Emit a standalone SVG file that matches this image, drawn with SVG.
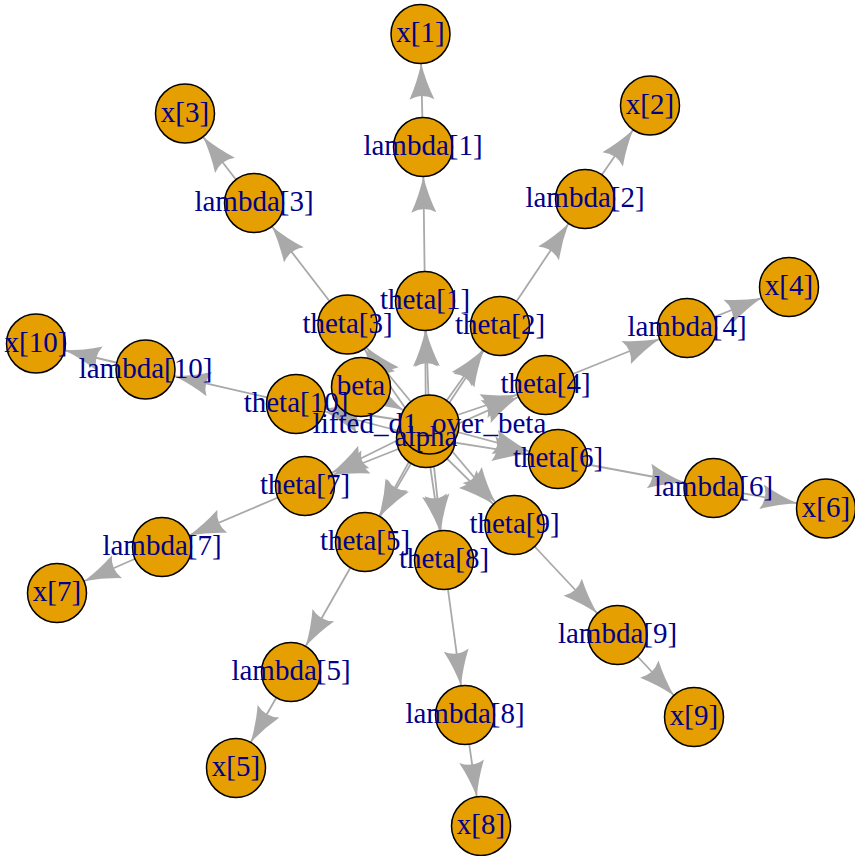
<svg xmlns="http://www.w3.org/2000/svg" width="855" height="856" viewBox="0 0 855 856">
<style>
.e{stroke:#A9A9A9;stroke-width:1.8;fill:none;marker-end:url(#ah)}
.n circle{fill:#E69F00;stroke:#000;stroke-width:1.5}
.n text{font-family:"Liberation Serif","Times New Roman",serif;font-size:29px;fill:#00008B;text-anchor:middle}
</style>
<defs>
<marker id="ah" markerUnits="userSpaceOnUse" orient="auto" refX="29.5" refY="0" overflow="visible" markerWidth="40" markerHeight="30">
<path d="M0,0 Q-19,-4.5 -36,-12.5 Q-29,0 -36,12.5 Q-19,4.5 0,0Z" fill="#A9A9A9"/>
</marker>
</defs>
<rect width="855" height="856" fill="#fff"/>
<g id="edges">
<line class="e" x1="361" y1="387" x2="429.5" y2="424.5"/>
<line class="e" x1="426" y1="438" x2="425" y2="301"/>
<line class="e" x1="429.5" y1="424.5" x2="425" y2="301"/>
<line class="e" x1="426" y1="438" x2="500" y2="326"/>
<line class="e" x1="429.5" y1="424.5" x2="500" y2="326"/>
<line class="e" x1="426" y1="438" x2="347.5" y2="324.5"/>
<line class="e" x1="429.5" y1="424.5" x2="347.5" y2="324.5"/>
<line class="e" x1="426" y1="438" x2="545.5" y2="385"/>
<line class="e" x1="429.5" y1="424.5" x2="545.5" y2="385"/>
<line class="e" x1="426" y1="438" x2="365" y2="542"/>
<line class="e" x1="429.5" y1="424.5" x2="365" y2="542"/>
<line class="e" x1="426" y1="438" x2="558" y2="459"/>
<line class="e" x1="429.5" y1="424.5" x2="558" y2="459"/>
<line class="e" x1="426" y1="438" x2="305" y2="486"/>
<line class="e" x1="429.5" y1="424.5" x2="305" y2="486"/>
<line class="e" x1="426" y1="438" x2="444" y2="560"/>
<line class="e" x1="429.5" y1="424.5" x2="444" y2="560"/>
<line class="e" x1="426" y1="438" x2="514.5" y2="525"/>
<line class="e" x1="429.5" y1="424.5" x2="514.5" y2="525"/>
<line class="e" x1="426" y1="438" x2="296" y2="404"/>
<line class="e" x1="429.5" y1="424.5" x2="296" y2="404"/>
<line class="e" x1="425" y1="301" x2="423" y2="147"/>
<line class="e" x1="500" y1="326" x2="585" y2="199"/>
<line class="e" x1="347.5" y1="324.5" x2="254" y2="203"/>
<line class="e" x1="545.5" y1="385" x2="687" y2="328"/>
<line class="e" x1="365" y1="542" x2="291" y2="672"/>
<line class="e" x1="558" y1="459" x2="713.5" y2="488"/>
<line class="e" x1="305" y1="486" x2="162" y2="547"/>
<line class="e" x1="444" y1="560" x2="465" y2="715"/>
<line class="e" x1="514.5" y1="525" x2="617.5" y2="635"/>
<line class="e" x1="296" y1="404" x2="145.5" y2="369.5"/>
<line class="e" x1="423" y1="147" x2="420.5" y2="34"/>
<line class="e" x1="585" y1="199" x2="650" y2="105.5"/>
<line class="e" x1="254" y1="203" x2="185" y2="113.5"/>
<line class="e" x1="687" y1="328" x2="789" y2="287"/>
<line class="e" x1="291" y1="672" x2="236" y2="768"/>
<line class="e" x1="713.5" y1="488" x2="826" y2="508.5"/>
<line class="e" x1="162" y1="547" x2="57" y2="593"/>
<line class="e" x1="465" y1="715" x2="481" y2="826"/>
<line class="e" x1="617.5" y1="635" x2="694" y2="717"/>
<line class="e" x1="145.5" y1="369.5" x2="36" y2="343.5"/>
</g>
<g class="n">
<g id="alpha"><circle cx="426" cy="438" r="29.5"/></g>
<g id="beta"><circle cx="361" cy="387" r="29.5"/></g>
<g id="lambda1"><circle cx="423" cy="147" r="29.5"/></g>
<g id="lambda2"><circle cx="585" cy="199" r="29.5"/></g>
<g id="lambda3"><circle cx="254" cy="203" r="29.5"/></g>
<g id="lambda4"><circle cx="687" cy="328" r="29.5"/></g>
<g id="lambda5"><circle cx="291" cy="672" r="29.5"/></g>
<g id="lambda6"><circle cx="713.5" cy="488" r="29.5"/></g>
<g id="lambda7"><circle cx="162" cy="547" r="29.5"/></g>
<g id="lambda8"><circle cx="465" cy="715" r="29.5"/></g>
<g id="lambda9"><circle cx="617.5" cy="635" r="29.5"/></g>
<g id="lambda10"><circle cx="145.5" cy="369.5" r="29.5"/></g>
<g id="theta1"><circle cx="425" cy="301" r="29.5"/></g>
<g id="theta2"><circle cx="500" cy="326" r="29.5"/></g>
<g id="theta3"><circle cx="347.5" cy="324.5" r="29.5"/></g>
<g id="theta4"><circle cx="545.5" cy="385" r="29.5"/></g>
<g id="theta5"><circle cx="365" cy="542" r="29.5"/></g>
<g id="theta6"><circle cx="558" cy="459" r="29.5"/></g>
<g id="theta7"><circle cx="305" cy="486" r="29.5"/></g>
<g id="theta8"><circle cx="444" cy="560" r="29.5"/></g>
<g id="theta9"><circle cx="514.5" cy="525" r="29.5"/></g>
<g id="theta10"><circle cx="296" cy="404" r="29.5"/></g>
<g id="x1"><circle cx="420.5" cy="34" r="29.5"/></g>
<g id="x2"><circle cx="650" cy="105.5" r="29.5"/></g>
<g id="x3"><circle cx="185" cy="113.5" r="29.5"/></g>
<g id="x4"><circle cx="789" cy="287" r="29.5"/></g>
<g id="x5"><circle cx="236" cy="768" r="29.5"/></g>
<g id="x6"><circle cx="826" cy="508.5" r="29.5"/></g>
<g id="x7"><circle cx="57" cy="593" r="29.5"/></g>
<g id="x8"><circle cx="481" cy="826" r="29.5"/></g>
<g id="x9"><circle cx="694" cy="717" r="29.5"/></g>
<g id="x10"><circle cx="36" cy="343.5" r="29.5"/></g>
<g id="lifted_d1_over_beta"><circle cx="429.5" cy="424.5" r="29.5"/></g>
</g>
<g class="n" id="labels">
<text x="426" y="446">alpha</text>
<text x="361" y="395">beta</text>
<text x="423" y="155">lambda[1]</text>
<text x="585" y="207">lambda[2]</text>
<text x="254" y="211">lambda[3]</text>
<text x="687" y="336">lambda[4]</text>
<text x="291" y="680">lambda[5]</text>
<text x="713.5" y="496">lambda[6]</text>
<text x="162" y="555">lambda[7]</text>
<text x="465" y="723">lambda[8]</text>
<text x="617.5" y="643">lambda[9]</text>
<text x="145.5" y="377.5">lambda[10]</text>
<text x="425" y="309">theta[1]</text>
<text x="500" y="334">theta[2]</text>
<text x="347.5" y="332.5">theta[3]</text>
<text x="545.5" y="393">theta[4]</text>
<text x="365" y="550">theta[5]</text>
<text x="558" y="467">theta[6]</text>
<text x="305" y="494">theta[7]</text>
<text x="444" y="568">theta[8]</text>
<text x="514.5" y="533">theta[9]</text>
<text x="296" y="412">theta[10]</text>
<text x="420.5" y="42">x[1]</text>
<text x="650" y="113.5">x[2]</text>
<text x="185" y="121.5">x[3]</text>
<text x="789" y="295">x[4]</text>
<text x="236" y="776">x[5]</text>
<text x="826" y="516.5">x[6]</text>
<text x="57" y="601">x[7]</text>
<text x="481" y="834">x[8]</text>
<text x="694" y="725">x[9]</text>
<text x="36" y="351.5">x[10]</text>
<text x="429.5" y="432.5">lifted_d1_over_beta</text>
</g>
</svg>
